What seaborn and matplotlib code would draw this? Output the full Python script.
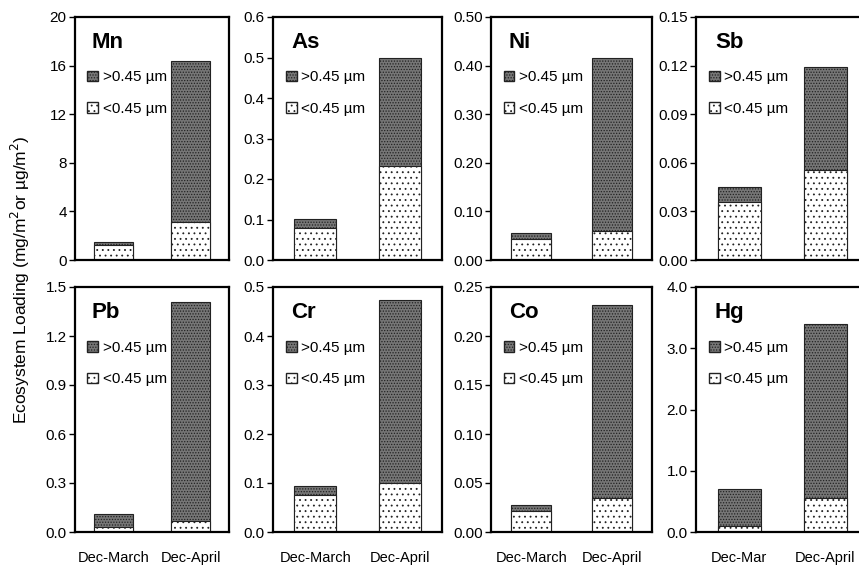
import numpy as np
import pandas as pd
import matplotlib
matplotlib.use('Agg')
import matplotlib.pyplot as plt
import seaborn as sns
from matplotlib import font_manager
from matplotlib.patches import Patch

sns.set_style('ticks')

# pick a narrow sans font if one is installed
narrow = 'Liberation Sans Narrow'
try:
    font_manager.findfont(narrow, fallback_to_default=False)
    fam = [narrow, 'DejaVu Sans']
except Exception:
    fam = ['Liberation Sans', 'DejaVu Sans']
plt.rcParams['font.family'] = fam
plt.rcParams['hatch.linewidth'] = 0.6
plt.rcParams['text.color'] = 'black'
plt.rcParams['xtick.color'] = 'black'
plt.rcParams['ytick.color'] = 'black'

# -------------------------------------------
# data
# -------------------------------------------
elements = ['Mn', 'As', 'Ni', 'Sb', 'Pb', 'Cr', 'Co', 'Hg']
periods = ['Dec-March', 'Dec-April']
hg_periods = ['Dec-Mar', 'Dec-April']

total = {
    'Mn': [1.5, 16.4], 'As': [0.102, 0.500], 'Ni': [0.055, 0.415], 'Sb': [0.045, 0.119],
    'Pb': [0.108, 1.41], 'Cr': [0.094, 0.474], 'Co': [0.0276, 0.232], 'Hg': [0.71, 3.39],
}
dissolved = {  # <0.45 um fraction
    'Mn': [1.24, 3.1], 'As': [0.080, 0.231], 'Ni': [0.043, 0.059], 'Sb': [0.0355, 0.0555],
    'Pb': [0.031, 0.068], 'Cr': [0.075, 0.101], 'Co': [0.0214, 0.0345], 'Hg': [0.094, 0.55],
}
ymax = {'Mn': 20, 'As': 0.6, 'Ni': 0.5, 'Sb': 0.15, 'Pb': 1.5, 'Cr': 0.5, 'Co': 0.25, 'Hg': 4.0}
ystep = {'Mn': 4, 'As': 0.1, 'Ni': 0.1, 'Sb': 0.03, 'Pb': 0.3, 'Cr': 0.1, 'Co': 0.05, 'Hg': 1.0}
yfmt = {'Mn': '{:.0f}', 'As': '{:.1f}', 'Ni': '{:.2f}', 'Sb': '{:.2f}',
        'Pb': '{:.1f}', 'Cr': '{:.1f}', 'Co': '{:.2f}', 'Hg': '{:.1f}'}

rows = []
for el in elements:
    labs = hg_periods if el == 'Hg' else periods
    for i in range(2):
        rows.append({'element': el, 'period': labs[i], 'total': total[el][i],
                     'dissolved': dissolved[el][i]})
df = pd.DataFrame(rows)

# panel boxes in pixels (left, top, width, height) of an 859x567 figure
W, H = 859, 567
lefts = [75, 273, 491, 696]
widths = [154, 169, 161, 172]
row_top = [17, 287]
row_h = [243, 245]

dark = '#767676'

fig = plt.figure(figsize=(W / 100, H / 100), dpi=100)

for k, el in enumerate(elements):
    r, c = divmod(k, 4)
    l, t, w, h = lefts[c], row_top[r], widths[c], row_h[r]
    ax = fig.add_axes([l / W, 1 - (t + h) / H, w / W, h / H])
    sub = df[df['element'] == el]

    sns.barplot(data=sub, x='period', y='total', color=dark, width=0.5,
                edgecolor='#222222', linewidth=0.8, saturation=1, ax=ax)
    sns.barplot(data=sub, x='period', y='dissolved', color='white', width=0.5,
                edgecolor='#222222', linewidth=0.8, saturation=1, ax=ax)
    n = len(sub)
    for i, p in enumerate(ax.patches):
        if i < n:
            p.set_hatch('......')
        else:
            p.set_hatch('...')

    ax.set_xlim(-0.5, 1.5)
    ax.set_ylim(0, ymax[el])
    ticks = np.arange(0, ymax[el] + ystep[el] / 2, ystep[el])
    ax.set_yticks(ticks)
    ax.set_yticklabels([yfmt[el].format(v) for v in ticks], fontsize=11)
    ax.set_xlabel('')
    ax.set_ylabel('')
    ax.tick_params(axis='y', direction='out', length=4, width=1, pad=2)
    ax.tick_params(axis='x', length=0, labelsize=10.5, pad=14)
    if r == 0:
        ax.set_xticklabels([])
    for s in ax.spines.values():
        s.set_visible(True)
        s.set_linewidth(1.6)
        s.set_color('black')

    ax.text(0.11, 0.895, el, transform=ax.transAxes, fontsize=16,
            fontweight='bold', va='center', ha='left')
    handles = [Patch(facecolor=dark, edgecolor='#222222', hatch='......', label='>0.45 µm'),
               Patch(facecolor='white', edgecolor='#222222', hatch='...', label='<0.45 µm')]
    ax.legend(handles=handles, loc='upper left', bbox_to_anchor=(0.04, 0.805),
              frameon=False, fontsize=11, handlelength=0.7, handleheight=0.7,
              handletextpad=0.3, labelspacing=1.15, borderaxespad=0)

fig.text(20 / W, 1 - 280 / H, 'Ecosystem Loading (mg/m$^2$or µg/m$^2$)',
         rotation=90, va='center', ha='center', fontsize=12.5)

plt.savefig('out.png', dpi=100)
